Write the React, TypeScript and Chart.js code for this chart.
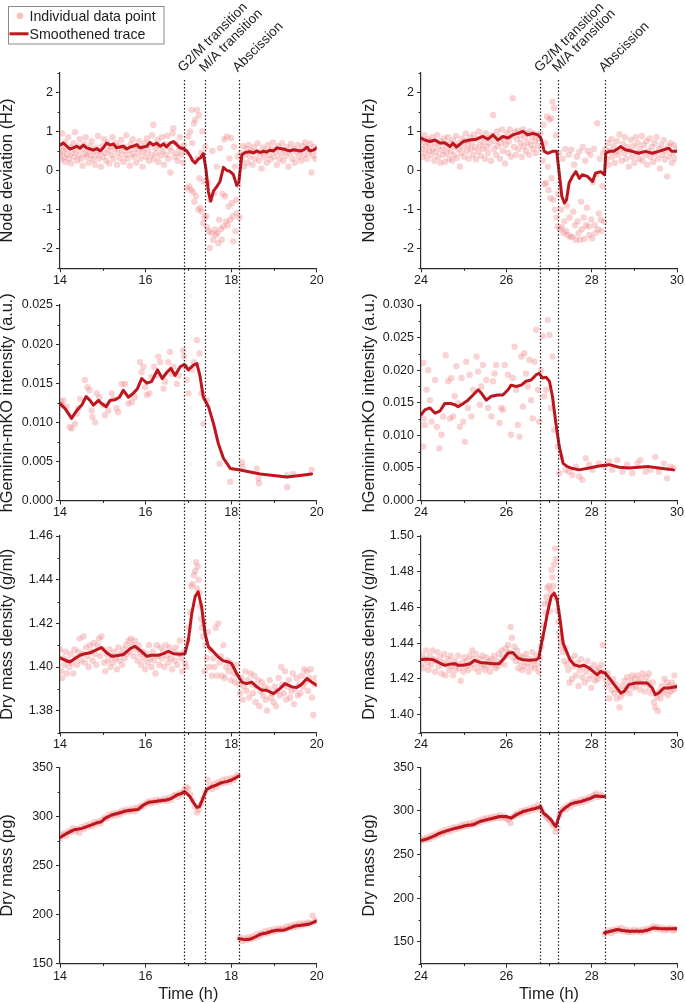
import React, { useEffect, useRef } from 'react';
import { Chart, registerables } from 'chart.js';
Chart.register(...registerables);

type Pt = [number, number | null];

// ================= DATA =================
const xTicksLeft = [14, 15, 16, 17, 18, 19, 20];
const xTicksRight = [24, 25, 26, 27, 28, 29, 30];
const nodeYTicks = [-2.5, -2, -1.5, -1, -0.5, 0, 0.5, 1, 1.5, 2, 2.5];
const gemLeftYTicks = [0, 0.0025, 0.005, 0.0075, 0.01, 0.0125, 0.015, 0.0175, 0.02, 0.0225, 0.025];
const gemRightYTicks = [0, 0.0025, 0.005, 0.0075, 0.01, 0.0125, 0.015, 0.0175, 0.02, 0.0225, 0.025, 0.0275, 0.03];
const denLeftYTicks = [1.37, 1.38, 1.39, 1.4, 1.41, 1.42, 1.43, 1.44, 1.45, 1.46];
const denRightYTicks = [1.39, 1.4, 1.41, 1.42, 1.43, 1.44, 1.45, 1.46, 1.47, 1.48, 1.49, 1.5];
const massLeftYTicks = [150, 175, 200, 225, 250, 275, 300, 325, 350];
const massRightYTicks = [125, 150, 175, 200, 225, 250, 275, 300, 325, 350];

const yTitles = ['Node deviation (Hz)', 'hGeminin-mKO intensity (a.u.)', 'Dry mass density (g/ml)', 'Dry mass (pg)'];
const xTitle = 'Time (h)';
const legendLabels = ['Individual data point', 'Smoothened trace'];
const eventNames = ['G2/M transition', 'M/A transition', 'Abscission'];
const eventsLeft = [16.9, 17.4, 18.18];
const eventsRight = [26.8, 27.22, 28.31];

const nodeLeftTrace: Pt[] = [[14.00,0.65],[14.08,0.70],[14.16,0.62],[14.23,0.55],[14.31,0.58],[14.39,0.62],[14.47,0.57],[14.55,0.65],[14.62,0.58],[14.70,0.55],[14.78,0.52],[14.86,0.56],[14.94,0.50],[15.01,0.58],[15.09,0.70],[15.17,0.65],[15.25,0.68],[15.32,0.58],[15.40,0.60],[15.48,0.62],[15.56,0.55],[15.64,0.60],[15.71,0.62],[15.79,0.66],[15.87,0.58],[15.95,0.60],[16.03,0.62],[16.10,0.72],[16.18,0.65],[16.26,0.70],[16.34,0.62],[16.42,0.68],[16.49,0.60],[16.57,0.70],[16.65,0.74],[16.73,0.66],[16.80,0.58],[16.90,0.55],[16.96,0.50],[17.04,0.38],[17.10,0.25],[17.16,0.19],[17.22,0.28],[17.29,0.33],[17.35,0.43],[17.41,0.05],[17.47,-0.55],[17.52,-0.78],[17.59,-0.52],[17.66,-0.42],[17.74,-0.28],[17.82,0.08],[17.90,0.0],[17.97,-0.02],[18.05,-0.10],[18.13,-0.38],[18.18,-0.30],[18.25,0.40],[18.33,0.46],[18.44,0.48],[18.52,0.45],[18.60,0.50],[18.68,0.46],[18.75,0.49],[18.83,0.47],[18.90,0.52],[18.99,0.50],[19.07,0.58],[19.14,0.56],[19.22,0.55],[19.30,0.52],[19.38,0.50],[19.45,0.53],[19.53,0.52],[19.61,0.50],[19.69,0.52],[19.77,0.60],[19.84,0.50],[19.92,0.52],[20.00,0.58]];

const nodeLeftPoints: Pt[] = [[14.00,0.45],[14.02,0.62],[14.03,0.28],[14.05,0.95],[14.07,0.50],[14.09,0.35],[14.11,0.72],[14.13,0.22],[14.15,0.55],[14.17,0.40],[14.19,0.85],[14.21,0.30],[14.24,0.60],[14.26,0.18],[14.28,0.45],[14.31,0.70],[14.33,0.35],[14.35,0.98],[14.37,0.52],[14.40,0.25],[14.42,0.62],[14.44,0.40],[14.46,0.80],[14.49,0.30],[14.51,0.55],[14.53,0.12],[14.56,0.68],[14.58,0.42],[14.60,0.85],[14.62,0.35],[14.65,0.50],[14.67,0.20],[14.70,0.62],[14.72,0.38],[14.74,0.75],[14.77,0.28],[14.79,0.50],[14.82,0.15],[14.84,0.58],[14.86,0.40],[14.89,0.88],[14.91,0.30],[14.94,0.48],[14.96,0.10],[14.99,0.62],[15.01,0.35],[15.03,0.80],[15.06,0.45],[15.08,0.25],[15.11,0.72],[15.13,0.52],[15.15,0.18],[15.18,0.60],[15.20,0.40],[15.23,0.85],[15.25,0.30],[15.28,0.55],[15.30,0.70],[15.33,0.15],[15.35,0.45],[15.38,0.62],[15.40,0.32],[15.43,0.78],[15.45,0.50],[15.48,0.22],[15.50,0.60],[15.53,0.40],[15.55,0.90],[15.58,0.30],[15.60,0.52],[15.63,0.12],[15.65,0.68],[15.68,0.42],[15.70,0.80],[15.73,0.35],[15.75,0.55],[15.78,0.20],[15.80,0.62],[15.83,0.45],[15.85,0.75],[15.88,0.30],[15.90,0.58],[15.93,0.10],[15.95,0.48],[15.98,0.70],[16.00,0.35],[16.03,0.82],[16.05,0.52],[16.08,0.25],[16.10,0.65],[16.13,0.40],[16.15,0.90],[16.18,1.17],[16.20,0.30],[16.23,0.58],[16.25,0.45],[16.28,0.78],[16.30,0.22],[16.33,0.62],[16.35,0.38],[16.38,0.85],[16.40,0.50],[16.43,0.15],[16.45,0.68],[16.48,0.40],[16.50,0.88],[16.53,0.30],[16.55,0.60],[16.58,-0.05],[16.60,0.50],[16.63,0.95],[16.65,1.08],[16.68,0.35],[16.70,0.70],[16.73,0.45],[16.75,0.25],[16.78,0.60],[16.80,0.85],[16.83,0.40],[16.85,0.55],[16.88,0.20],[16.90,0.65],
[16.94,0.48],[16.97,-0.45],[17.00,0.87],[17.02,-0.40],[17.04,1.00],[17.06,-0.50],[17.08,1.55],[17.09,0.70],[17.11,-0.55],[17.13,1.20],[17.14,-0.80],[17.16,1.30],[17.18,-0.65],[17.20,1.55],[17.21,0.30],[17.23,-1.00],[17.25,1.42],[17.26,-0.20],[17.28,-0.95],[17.30,0.45],[17.31,-1.05],[17.33,1.00],[17.35,-1.35],[17.36,-0.28],[17.38,-1.20],[17.40,0.60],[17.42,-1.17],[17.44,-1.45],[17.46,-0.32],[17.48,-1.55],[17.50,-1.98],[17.52,-0.75],[17.54,-1.60],[17.56,0.50],[17.58,-1.77],[17.60,-0.58],[17.62,-1.51],[17.64,-1.65],[17.66,0.10],[17.68,-1.60],[17.70,-1.86],[17.72,-1.26],[17.74,0.57],[17.76,-1.50],[17.78,-1.77],[17.80,-0.60],[17.82,-1.43],[17.84,0.80],[17.86,-0.66],[17.88,-1.30],[17.90,0.87],[17.92,-1.40],[17.94,-0.92],[17.96,0.31],[17.98,-1.26],[18.00,0.83],[18.02,-0.83],[18.04,-1.17],[18.05,-1.81],[18.07,0.61],[18.09,0.10],[18.10,-1.55],[18.12,-0.75],[18.13,-1.09],[18.15,0.36],[18.17,-0.37],[18.19,-1.20],
[18.22,0.45],[18.25,0.25],[18.28,0.62],[18.30,0.10],[18.33,0.40],[18.36,0.55],[18.38,0.20],[18.41,0.65],[18.44,0.35],[18.47,0.50],[18.50,0.15],[18.53,0.60],[18.56,0.30],[18.59,0.48],[18.62,0.70],[18.65,0.25],[18.68,0.42],[18.71,0.05],[18.74,0.58],[18.77,0.35],[18.80,0.50],[18.83,0.20],[18.86,0.65],[18.89,0.40],[18.92,0.28],[18.95,0.55],[18.98,0.72],[19.01,0.35],[19.04,0.48],[19.07,0.15],[19.10,0.62],[19.13,0.30],[19.16,0.45],[19.19,0.70],[19.22,0.25],[19.25,0.52],[19.28,0.38],[19.31,0.60],[19.34,0.10],[19.37,0.45],[19.40,0.68],[19.43,0.30],[19.46,0.55],[19.49,0.20],[19.52,0.48],[19.55,0.65],[19.58,0.35],[19.61,0.50],[19.64,0.25],[19.67,0.62],[19.70,0.40],[19.73,0.72],[19.76,0.30],[19.79,0.55],[19.82,0.45],[19.85,0.68],[19.88,-0.05],[19.91,0.38],[19.94,0.60],[19.97,0.30],[20.00,0.50]];

const nodeRightTrace: Pt[] = [[24.00,0.83],[24.09,0.78],[24.21,0.74],[24.33,0.78],[24.44,0.70],[24.56,0.71],[24.68,0.61],[24.75,0.70],[24.83,0.60],[24.99,0.74],[25.14,0.78],[25.30,0.80],[25.45,0.87],[25.57,0.80],[25.69,0.91],[25.80,0.78],[25.92,0.87],[26.04,0.83],[26.15,0.91],[26.27,0.95],[26.39,1.00],[26.50,0.91],[26.62,0.95],[26.74,0.91],[26.81,0.83],[26.89,0.49],[26.97,0.44],[27.08,0.49],[27.18,0.49],[27.24,-0.07],[27.30,-0.66],[27.36,-0.83],[27.41,-0.75],[27.47,-0.32],[27.55,-0.15],[27.63,-0.03],[27.71,-0.20],[27.78,-0.11],[27.90,-0.15],[28.02,-0.28],[28.09,-0.07],[28.21,-0.03],[28.30,-0.11],[28.33,0.44],[28.41,0.49],[28.52,0.49],[28.68,0.61],[28.79,0.53],[28.95,0.49],[29.10,0.44],[29.26,0.49],[29.42,0.44],[29.57,0.49],[29.69,0.53],[29.80,0.57],[29.88,0.49],[30.00,0.49]];

const nodeRightPoints: Pt[] = [[24.00,0.80],[24.02,0.55],[24.04,0.35],[24.06,0.72],[24.08,0.90],[24.10,0.45],[24.12,0.62],[24.15,0.30],[24.17,0.80],[24.19,0.50],[24.21,0.68],[24.24,0.40],[24.26,0.85],[24.28,0.55],[24.31,0.25],[24.33,0.70],[24.35,0.48],[24.38,0.90],[24.40,0.35],[24.42,0.62],[24.45,0.20],[24.47,0.75],[24.49,0.52],[24.52,0.40],[24.54,0.82],[24.56,0.22],[24.59,0.60],[24.61,0.45],[24.63,0.85],[24.66,0.30],[24.68,0.70],[24.70,0.50],[24.73,0.25],[24.75,0.78],[24.77,0.40],[24.80,0.62],[24.82,0.88],[24.84,0.32],[24.87,0.55],[24.89,0.70],[24.91,0.10],[24.94,0.45],[24.96,0.82],[24.98,0.60],[25.01,0.35],[25.03,0.75],[25.05,0.95],[25.08,0.50],[25.10,0.65],[25.12,0.30],[25.15,0.85],[25.17,0.55],[25.19,0.72],[25.22,0.40],[25.24,0.92],[25.26,0.60],[25.29,0.28],[25.31,0.80],[25.33,0.50],[25.36,1.00],[25.38,0.65],[25.40,0.38],[25.43,0.85],[25.45,0.55],[25.47,0.72],[25.50,0.30],[25.52,0.95],[25.54,0.60],[25.57,0.45],[25.59,0.82],[25.61,0.70],[25.64,0.25],[25.66,0.90],[25.69,1.42],[25.71,0.55],[25.73,0.75],[25.76,0.40],[25.78,1.00],[25.80,0.62],[25.83,0.85],[25.85,0.30],[25.87,0.70],[25.90,1.05],[25.92,0.50],[25.94,0.80],[25.97,0.18],[25.99,0.65],[26.01,0.95],[26.04,0.45],[26.06,0.75],[26.08,1.05],[26.11,0.35],[26.13,0.88],[26.15,1.85],[26.18,0.60],[26.20,0.98],[26.22,0.40],[26.25,0.80],[26.27,1.02],[26.29,0.55],[26.32,0.90],[26.34,0.70],[26.36,0.35],[26.39,1.05],[26.41,0.62],[26.43,0.85],[26.46,0.50],[26.48,0.95],[26.50,0.72],[26.53,0.40],[26.55,1.00],[26.57,0.65],[26.60,0.85],[26.62,0.55],[26.64,0.95],[26.67,0.75],[26.69,0.45],[26.71,0.90],[26.74,0.62],[26.76,0.80],
[26.80,0.95],[26.83,0.55],[26.85,0.25],[26.87,1.17],[26.89,-0.35],[26.91,0.70],[26.93,-0.32],[26.95,1.38],[26.97,0.10],[26.99,-0.50],[27.01,1.30],[27.03,-0.70],[27.05,1.34],[27.06,-0.20],[27.08,1.76],[27.10,-0.75],[27.12,1.60],[27.14,-1.00],[27.16,0.90],[27.18,-1.20],[27.20,-1.43],[27.22,-0.60],[27.24,0.45],[27.26,-1.51],[27.28,-1.00],[27.30,-1.45],[27.32,0.30],[27.34,-1.60],[27.36,-1.30],[27.38,0.55],[27.40,-1.55],[27.42,-0.90],[27.44,-1.65],[27.46,0.40],[27.48,-1.20],[27.50,-1.70],[27.52,0.53],[27.55,-1.69],[27.57,-1.05],[27.59,0.15],[27.61,-1.40],[27.63,-1.77],[27.65,0.35],[27.67,-1.30],[27.69,-1.60],[27.71,0.48],[27.73,-1.77],[27.75,-0.80],[27.77,-1.50],[27.79,0.60],[27.81,-1.20],[27.83,-1.75],[27.85,0.25],[27.87,-1.40],[27.89,-0.95],[27.91,0.50],[27.93,-1.43],[27.95,-1.65],[27.97,0.40],[27.99,-1.25],[28.01,-1.73],[28.03,-0.30],[28.05,0.55],[28.07,-1.40],[28.09,-1.60],[28.11,-0.10],[28.13,1.21],[28.15,-1.51],[28.17,-1.10],[28.19,0.30],[28.21,-1.26],[28.23,-1.55],[28.25,-0.40],[28.27,0.45],[28.29,-1.30],
[28.32,0.55],[28.35,0.30],[28.38,0.70],[28.40,0.15],[28.43,0.50],[28.46,0.80],[28.48,0.35],[28.51,0.62],[28.54,0.20],[28.57,0.48],[28.59,0.75],[28.62,0.40],[28.65,0.92],[28.68,0.55],[28.70,0.25],[28.73,0.68],[28.76,0.45],[28.78,0.85],[28.81,0.30],[28.84,0.60],[28.87,0.10],[28.89,0.50],[28.92,0.78],[28.95,0.35],[28.98,0.62],[29.00,0.20],[29.03,0.85],[29.06,0.45],[29.08,0.70],[29.11,0.30],[29.14,0.55],[29.17,0.88],[29.19,0.25],[29.22,0.65],[29.25,0.40],[29.28,0.75],[29.30,0.15],[29.33,0.50],[29.36,0.82],[29.38,0.35],[29.41,0.60],[29.44,0.22],[29.47,0.70],[29.49,0.45],[29.52,0.85],[29.55,0.30],[29.58,0.55],[29.60,0.05],[29.63,0.65],[29.66,0.40],[29.69,0.78],[29.71,0.28],[29.74,0.50],[29.77,-0.15],[29.80,0.62],[29.82,0.35],[29.85,0.70],[29.88,0.20],[29.90,0.45],[29.93,0.65],[29.96,0.30],[29.99,0.55]];

const gemLeftTrace: Pt[] = [[14.00,0.0124],[14.12,0.01175],[14.27,0.0105],[14.39,0.0115],[14.51,0.0122],[14.61,0.0133],[14.70,0.0128],[14.78,0.0122],[14.90,0.0128],[14.97,0.0124],[15.08,0.0120],[15.17,0.0128],[15.29,0.0129],[15.39,0.0132],[15.48,0.0141],[15.60,0.0132],[15.71,0.0137],[15.81,0.0143],[15.91,0.0156],[16.03,0.0150],[16.14,0.0152],[16.28,0.0167],[16.39,0.0156],[16.50,0.0164],[16.59,0.0169],[16.69,0.0160],[16.81,0.0171],[16.91,0.0174],[17.00,0.0167],[17.12,0.0173],[17.20,0.0175],[17.27,0.0160],[17.35,0.0132],[17.47,0.0120],[17.59,0.0098],[17.70,0.0073],[17.82,0.0054],[17.98,0.0041],[18.21,0.0039],[18.68,0.0034],[19.30,0.0030],[19.61,0.0032],[19.88,0.0034]];

const gemLeftPoints: Pt[] = [[14.02,0.0126],[14.05,0.0122],[14.08,0.0128],[14.16,0.0120],[14.23,0.0094],[14.27,0.0092],[14.35,0.0098],[14.39,0.0111],[14.43,0.0118],[14.47,0.0130],[14.58,0.0154],[14.64,0.0145],[14.69,0.0141],[14.74,0.0115],[14.76,0.0107],[14.82,0.0100],[14.86,0.0137],[14.92,0.0132],[15.01,0.0122],[15.05,0.0109],[15.13,0.0115],[15.21,0.0137],[15.25,0.0130],[15.32,0.0118],[15.36,0.0113],[15.44,0.0149],[15.52,0.0149],[15.60,0.0124],[15.68,0.0126],[15.75,0.0132],[15.87,0.0177],[15.91,0.0164],[15.95,0.0171],[15.99,0.0145],[16.03,0.0135],[16.09,0.0137],[16.14,0.0158],[16.20,0.0171],[16.25,0.0160],[16.30,0.0184],[16.34,0.0177],[16.42,0.0143],[16.46,0.0152],[16.53,0.0177],[16.57,0.0190],[16.61,0.0162],[16.65,0.0171],[16.73,0.0149],[16.77,0.0160],[16.88,0.0192],[16.90,0.0184],[16.92,0.0171],[16.96,0.0154],[17.00,0.0137],[17.08,0.0167],[17.13,0.0177],[17.20,0.0205],[17.26,0.0188],[17.31,0.0137],[17.35,0.0098],[17.43,0.0128],[17.73,0.0047],[17.98,0.0024],[18.25,0.0049],[18.27,0.0043],[18.60,0.0041],[18.64,0.0028],[18.65,0.0022],[19.30,0.0032],[19.31,0.0017],[19.45,0.0034],[19.88,0.0039]];

const gemRightTrace: Pt[] = [[24.00,0.01314],[24.09,0.0139],[24.21,0.0142],[24.33,0.0134],[24.44,0.0137],[24.56,0.0149],[24.68,0.0149],[24.79,0.0147],[24.87,0.0144],[24.99,0.0149],[25.10,0.0154],[25.22,0.0162],[25.34,0.0170],[25.41,0.0165],[25.53,0.0154],[25.65,0.0160],[25.80,0.0162],[25.92,0.0162],[26.04,0.0170],[26.11,0.0177],[26.23,0.0175],[26.35,0.0177],[26.46,0.0183],[26.58,0.0185],[26.70,0.0193],[26.77,0.0195],[26.85,0.0188],[26.93,0.0189],[27.01,0.0183],[27.08,0.0160],[27.16,0.0119],[27.24,0.0083],[27.33,0.0057],[27.43,0.0052],[27.55,0.0049],[27.71,0.0047],[27.94,0.0050],[28.17,0.0053],[28.41,0.0055],[28.64,0.0051],[28.87,0.0050],[29.10,0.0051],[29.34,0.0052],[29.57,0.0050],[29.80,0.0048],[29.92,0.0047]];

const gemRightPoints: Pt[] = [[24.05,0.0211],[24.05,0.0083],[24.09,0.0116],[24.06,0.0126],[24.17,0.0200],[24.13,0.0170],[24.21,0.0154],[24.25,0.0121],[24.33,0.0185],[24.37,0.0113],[24.43,0.0080],[24.48,0.0101],[24.52,0.0129],[24.58,0.0223],[24.64,0.0183],[24.68,0.0126],[24.71,0.0188],[24.75,0.0129],[24.79,0.0160],[24.83,0.0206],[24.87,0.0149],[24.91,0.0113],[24.95,0.0188],[24.99,0.0121],[25.03,0.0090],[25.06,0.0213],[25.10,0.0142],[25.14,0.0193],[25.18,0.0129],[25.22,0.0170],[25.30,0.0221],[25.34,0.0198],[25.38,0.0147],[25.41,0.0175],[25.45,0.0208],[25.53,0.0185],[25.57,0.0142],[25.65,0.0129],[25.69,0.0183],[25.72,0.0195],[25.76,0.0208],[25.84,0.0119],[25.88,0.0142],[25.92,0.0139],[25.96,0.0208],[26.04,0.0193],[26.11,0.0101],[26.15,0.0188],[26.19,0.0236],[26.23,0.0170],[26.27,0.0116],[26.31,0.0098],[26.35,0.0221],[26.39,0.0144],[26.42,0.0226],[26.46,0.0195],[26.50,0.0175],[26.54,0.0216],[26.58,0.0154],[26.62,0.0126],[26.66,0.0213],[26.70,0.0262],[26.74,0.0170],[26.77,0.0121],[26.81,0.0200],[26.85,0.0252],[26.89,0.0160],[26.93,0.0170],[26.97,0.0277],[27.01,0.0254],[27.04,0.0142],[27.08,0.0221],[27.12,0.0108],[27.20,0.0083],[27.24,0.0042],[27.28,0.0067],[27.39,0.0047],[27.47,0.0044],[27.55,0.0039],[27.63,0.0052],[27.71,0.0037],[27.78,0.0032],[27.86,0.0065],[27.94,0.0055],[28.02,0.0047],[28.17,0.0057],[28.29,0.0052],[28.41,0.0060],[28.48,0.0047],[28.60,0.0062],[28.72,0.0044],[28.83,0.0055],[28.95,0.0042],[29.07,0.0057],[29.14,0.0062],[29.26,0.0044],[29.38,0.0047],[29.49,0.0067],[29.57,0.0044],[29.69,0.0057],[29.77,0.0034],[29.84,0.0052],[29.92,0.0050]];

const denLeftTrace: Pt[] = [[14.00,1.4042],[14.12,1.4031],[14.23,1.4023],[14.35,1.4039],[14.47,1.4054],[14.58,1.4061],[14.70,1.4065],[14.86,1.4080],[14.97,1.4089],[15.09,1.4065],[15.21,1.4049],[15.32,1.4052],[15.48,1.4057],[15.64,1.4084],[15.75,1.4095],[15.87,1.4077],[16.03,1.4049],[16.14,1.4054],[16.30,1.4054],[16.42,1.4061],[16.53,1.4072],[16.65,1.4061],[16.81,1.4058],[16.92,1.4061],[17.00,1.4123],[17.08,1.4245],[17.16,1.4324],[17.23,1.4344],[17.31,1.4276],[17.39,1.4153],[17.47,1.4092],[17.59,1.4069],[17.70,1.4046],[17.82,1.4028],[17.94,1.4023],[18.01,1.4016],[18.13,1.3970],[18.25,1.3931],[18.36,1.3924],[18.48,1.3931],[18.60,1.3909],[18.72,1.3893],[18.83,1.3893],[18.99,1.3878],[19.14,1.3901],[19.26,1.3924],[19.42,1.3909],[19.53,1.3906],[19.65,1.3921],[19.77,1.3947],[19.88,1.3931],[20.00,1.3916]];

const denLeftPoints: Pt[] = [[14.00,1.408],[14.03,1.398],[14.05,1.395],[14.08,1.404],[14.10,1.401],[14.13,1.407],[14.16,1.397],[14.19,1.403],[14.22,1.400],[14.25,1.406],[14.28,1.402],[14.31,1.397],[14.34,1.408],[14.37,1.404],[14.40,1.401],[14.43,1.407],[14.46,1.413],[14.49,1.403],[14.52,1.406],[14.55,1.414],[14.58,1.402],[14.61,1.409],[14.64,1.405],[14.67,1.400],[14.70,1.410],[14.73,1.407],[14.76,1.403],[14.79,1.411],[14.82,1.406],[14.85,1.401],[14.88,1.410],[14.91,1.413],[14.94,1.405],[14.97,1.414],[15.00,1.408],[15.03,1.402],[15.06,1.398],[15.09,1.406],[15.12,1.403],[15.15,1.408],[15.18,1.400],[15.21,1.405],[15.24,1.402],[15.27,1.407],[15.30,1.404],[15.33,1.399],[15.36,1.409],[15.39,1.403],[15.42,1.406],[15.45,1.401],[15.48,1.408],[15.51,1.404],[15.54,1.410],[15.57,1.406],[15.60,1.412],[15.63,1.407],[15.66,1.413],[15.69,1.410],[15.72,1.405],[15.75,1.412],[15.78,1.408],[15.81,1.403],[15.84,1.410],[15.87,1.406],[15.90,1.401],[15.93,1.407],[15.96,1.404],[15.99,1.399],[16.02,1.406],[16.05,1.402],[16.08,1.410],[16.11,1.404],[16.14,1.400],[16.17,1.407],[16.20,1.403],[16.23,1.397],[16.26,1.410],[16.29,1.405],[16.32,1.401],[16.35,1.409],[16.38,1.404],[16.41,1.407],[16.44,1.400],[16.47,1.410],[16.50,1.405],[16.53,1.402],[16.56,1.409],[16.59,1.404],[16.62,1.399],[16.65,1.407],[16.68,1.403],[16.71,1.409],[16.74,1.401],[16.77,1.406],[16.80,1.412],[16.83,1.404],[16.86,1.398],[16.89,1.407],
[16.92,1.402],[16.95,1.400],[16.98,1.412],[17.01,1.418],[17.04,1.425],[17.07,1.437],[17.10,1.438],[17.13,1.442],[17.16,1.444],[17.18,1.448],[17.20,1.436],[17.22,1.446],[17.24,1.440],[17.26,1.434],[17.28,1.428],[17.30,1.422],[17.32,1.418],[17.34,1.414],[17.36,1.420],[17.38,1.398],[17.40,1.410],[17.43,1.404],[17.46,1.416],[17.49,1.400],[17.52,1.408],[17.55,1.396],[17.58,1.404],[17.61,1.400],[17.64,1.418],[17.67,1.396],[17.70,1.420],[17.73,1.402],[17.76,1.405],[17.79,1.396],[17.82,1.410],[17.85,1.395],[17.88,1.400],[17.91,1.403],[17.94,1.398],[17.97,1.402],[18.00,1.394],[18.03,1.400],[18.06,1.397],[18.09,1.393],[18.12,1.401],[18.15,1.396],
[18.18,1.392],[18.21,1.388],[18.24,1.395],[18.27,1.385],[18.30,1.391],[18.33,1.398],[18.36,1.389],[18.39,1.394],[18.42,1.386],[18.45,1.397],[18.48,1.392],[18.51,1.388],[18.54,1.396],[18.57,1.384],[18.60,1.391],[18.63,1.394],[18.66,1.382],[18.69,1.389],[18.72,1.393],[18.75,1.387],[18.78,1.391],[18.81,1.385],[18.84,1.380],[18.87,1.390],[18.90,1.394],[18.93,1.386],[18.96,1.388],[18.99,1.384],[19.02,1.391],[19.05,1.382],[19.08,1.389],[19.11,1.395],[19.14,1.387],[19.17,1.400],[19.20,1.392],[19.23,1.388],[19.26,1.398],[19.29,1.385],[19.32,1.391],[19.35,1.394],[19.38,1.386],[19.41,1.389],[19.44,1.397],[19.47,1.383],[19.50,1.390],[19.53,1.395],[19.56,1.387],[19.59,1.392],[19.62,1.388],[19.65,1.396],[19.68,1.391],[19.71,1.399],[19.74,1.393],[19.77,1.398],[19.80,1.389],[19.83,1.395],[19.86,1.399],[19.89,1.386],[19.92,1.378],[19.95,1.392],[19.98,1.395]];

const denRightTrace: Pt[] = [[24.00,1.4307],[24.13,1.4311],[24.29,1.4307],[24.44,1.4289],[24.56,1.4276],[24.68,1.4283],[24.79,1.4285],[24.87,1.4276],[24.99,1.4276],[25.14,1.4283],[25.26,1.4304],[25.38,1.4292],[25.53,1.4289],[25.69,1.4285],[25.83,1.4285],[25.92,1.4307],[26.04,1.4345],[26.15,1.4348],[26.27,1.4317],[26.39,1.4307],[26.54,1.4305],[26.70,1.4307],[26.76,1.4317],[26.81,1.4382],[26.89,1.4475],[26.97,1.4577],[27.05,1.4661],[27.12,1.4680],[27.19,1.4642],[27.26,1.4531],[27.33,1.4400],[27.41,1.4354],[27.49,1.4307],[27.59,1.4279],[27.71,1.4270],[27.82,1.4276],[27.94,1.4261],[28.06,1.4237],[28.13,1.4223],[28.21,1.4242],[28.33,1.4229],[28.44,1.4196],[28.56,1.4158],[28.68,1.4121],[28.76,1.4130],[28.87,1.4168],[29.03,1.4177],[29.18,1.4177],[29.30,1.4177],[29.42,1.4149],[29.49,1.4112],[29.57,1.4121],[29.69,1.4149],[29.80,1.4149],[30.00,1.4158]];

const denRightPoints: Pt[] = [[24.00,1.428],[24.03,1.433],[24.06,1.426],[24.09,1.431],[24.12,1.436],[24.15,1.429],[24.18,1.425],[24.21,1.433],[24.24,1.428],[24.27,1.436],[24.30,1.431],[24.33,1.424],[24.36,1.430],[24.39,1.435],[24.42,1.427],[24.45,1.432],[24.48,1.423],[24.51,1.429],[24.54,1.434],[24.57,1.422],[24.60,1.428],[24.63,1.431],[24.66,1.425],[24.69,1.433],[24.72,1.427],[24.75,1.422],[24.78,1.430],[24.81,1.425],[24.84,1.428],[24.87,1.433],[24.90,1.426],[24.93,1.419],[24.96,1.429],[24.99,1.424],[25.02,1.432],[25.05,1.427],[25.08,1.430],[25.11,1.425],[25.14,1.433],[25.17,1.428],[25.20,1.436],[25.23,1.431],[25.26,1.426],[25.29,1.434],[25.32,1.429],[25.35,1.424],[25.38,1.431],[25.41,1.427],[25.44,1.433],[25.47,1.428],[25.50,1.425],[25.53,1.432],[25.56,1.427],[25.59,1.430],[25.62,1.424],[25.65,1.431],[25.68,1.428],[25.71,1.433],[25.74,1.426],[25.77,1.430],[25.80,1.427],[25.83,1.434],[25.86,1.429],[25.89,1.436],[25.92,1.432],[25.95,1.428],[25.98,1.437],[26.01,1.433],[26.04,1.439],[26.07,1.435],[26.10,1.449],[26.13,1.443],[26.16,1.432],[26.19,1.438],[26.22,1.430],[26.25,1.436],[26.28,1.426],[26.31,1.433],[26.34,1.429],[26.37,1.425],[26.40,1.432],[26.43,1.427],[26.46,1.434],[26.49,1.429],[26.52,1.424],[26.55,1.431],[26.58,1.427],[26.61,1.435],[26.64,1.430],[26.67,1.426],[26.70,1.433],[26.73,1.428],
[26.76,1.424],[26.79,1.432],[26.82,1.438],[26.85,1.443],[26.88,1.450],[26.90,1.462],[26.92,1.457],[26.94,1.466],[26.96,1.471],[26.98,1.463],[27.00,1.472],[27.02,1.458],[27.04,1.469],[27.06,1.481],[27.08,1.477],[27.10,1.472],[27.12,1.484],[27.14,1.493],[27.16,1.487],[27.18,1.465],[27.20,1.458],[27.22,1.452],[27.24,1.446],[27.26,1.443],[27.28,1.438],[27.30,1.441],[27.33,1.435],[27.36,1.430],[27.39,1.437],[27.42,1.428],[27.45,1.425],[27.48,1.418],[27.51,1.431],[27.54,1.420],[27.57,1.427],[27.60,1.433],[27.63,1.422],[27.66,1.429],[27.69,1.416],[27.72,1.425],[27.75,1.431],[27.78,1.421],[27.81,1.427],[27.84,1.418],[27.87,1.424],[27.90,1.430],[27.93,1.420],[27.96,1.426],[27.99,1.415],[28.02,1.422],[28.05,1.428],[28.08,1.419],[28.11,1.425],[28.14,1.420],[28.17,1.426],[28.20,1.422],[28.23,1.428],[28.26,1.439],[28.29,1.424],
[28.32,1.420],[28.35,1.416],[28.38,1.423],[28.41,1.409],[28.44,1.418],[28.47,1.414],[28.50,1.420],[28.53,1.412],[28.56,1.417],[28.59,1.409],[28.62,1.414],[28.65,1.404],[28.68,1.410],[28.71,1.416],[28.74,1.412],[28.77,1.419],[28.80,1.414],[28.83,1.421],[28.86,1.416],[28.89,1.412],[28.92,1.419],[28.95,1.422],[28.98,1.415],[29.01,1.420],[29.04,1.416],[29.07,1.422],[29.10,1.418],[29.13,1.414],[29.16,1.420],[29.19,1.423],[29.22,1.417],[29.25,1.413],[29.28,1.421],[29.31,1.418],[29.34,1.423],[29.37,1.415],[29.40,1.412],[29.43,1.418],[29.46,1.407],[29.49,1.404],[29.52,1.410],[29.55,1.402],[29.58,1.413],[29.61,1.409],[29.64,1.416],[29.67,1.412],[29.70,1.420],[29.73,1.414],[29.76,1.418],[29.79,1.411],[29.82,1.416],[29.85,1.413],[29.88,1.418],[29.91,1.414],[29.94,1.422],[29.97,1.416],[30.00,1.415]];

const massLeftTrace: Pt[] = [[14.00,278.6],[14.16,282.7],[14.31,286.1],[14.51,287.8],[14.66,290.1],[14.86,293.5],[14.97,294.6],[15.05,298.0],[15.21,301.4],[15.40,303.7],[15.56,305.8],[15.71,306.5],[15.83,307.1],[15.95,311.6],[16.07,314.3],[16.18,315.0],[16.34,316.0],[16.49,316.7],[16.61,318.4],[16.73,321.8],[16.84,323.5],[16.91,325.2],[16.96,323.5],[17.04,320.1],[17.12,314.0],[17.20,309.2],[17.26,309.9],[17.31,315.0],[17.37,321.8],[17.43,327.6],[17.55,330.3],[17.66,332.0],[17.78,334.4],[17.90,335.4],[18.01,337.1],[18.09,338.8],[18.18,341.2],[18.181,null],[18.18,175.5],[18.33,174.5],[18.44,174.8],[18.56,177.2],[18.68,179.9],[18.83,181.3],[18.95,183.0],[19.07,184.0],[19.22,184.0],[19.38,186.4],[19.49,188.4],[19.65,189.1],[19.81,190.1],[20.00,193.5]];

const massLeftPoints: Pt[] = [[14.00,277],[14.05,281],[14.10,283],[14.15,280],[14.20,285],[14.25,284],[14.30,288],[14.35,285],[14.40,287],[14.45,283],[14.50,289],[14.55,287],[14.60,291],[14.65,289],[14.70,292],[14.75,290],[14.80,294],[14.85,292],[14.90,295],[14.95,293],[15.00,297],[15.05,299],[15.10,298],[15.15,302],[15.20,300],[15.25,303],[15.30,301],[15.35,304],[15.40,302],[15.45,306],[15.50,304],[15.55,307],[15.60,305],[15.65,306],[15.70,308],[15.75,305],[15.80,309],[15.85,308],[15.90,311],[15.95,310],[16.00,313],[16.05,315],[16.10,313],[16.15,316],[16.20,314],[16.25,317],[16.30,315],[16.35,317],[16.40,316],[16.45,318],[16.50,316],[16.55,319],[16.60,317],[16.65,321],[16.70,322],[16.75,320],[16.80,324],[16.85,322],[16.90,327],[16.95,330],[17.00,328],[17.05,322],[17.10,316],[17.15,310],[17.20,304],[17.25,307],[17.30,313],[17.35,318],[17.40,325],[17.45,337],[17.50,331],[17.55,328],[17.60,333],[17.65,330],[17.70,335],[17.75,333],[17.80,337],[17.85,334],[17.90,338],[17.95,335],[18.00,339],[18.05,337],[18.10,340],[18.15,342],
[18.20,177],[18.25,173],[18.30,176],[18.35,174],[18.40,177],[18.45,175],[18.50,178],[18.55,176],[18.60,180],[18.65,178],[18.70,181],[18.75,180],[18.80,183],[18.85,181],[18.90,184],[18.95,182],[19.00,185],[19.05,183],[19.10,186],[19.15,184],[19.20,186],[19.25,185],[19.30,188],[19.35,186],[19.40,189],[19.45,187],[19.50,190],[19.55,188],[19.60,191],[19.65,189],[19.70,191],[19.75,190],[19.80,192],[19.85,191],[19.90,199],[19.95,193],[20.00,195]];

const massRightTrace: Pt[] = [[24.00,266.2],[24.13,267.7],[24.29,270.8],[24.44,274.6],[24.60,277.2],[24.75,279.5],[24.91,281.4],[25.06,283.3],[25.22,284.1],[25.38,287.9],[25.53,289.8],[25.69,291.7],[25.84,293.6],[26.00,293.6],[26.11,291.7],[26.23,295.5],[26.39,299.3],[26.54,301.2],[26.70,303.1],[26.80,305.0],[26.87,297.4],[26.97,293.6],[27.05,289.8],[27.12,284.1],[27.16,282.2],[27.22,291.7],[27.28,299.3],[27.40,304.3],[27.51,308.1],[27.63,309.6],[27.75,310.8],[27.86,312.7],[27.98,314.6],[28.09,317.2],[28.21,316.5],[28.30,316.5],[28.301,null],[28.30,160.3],[28.44,162.2],[28.60,164.1],[28.72,163.0],[28.87,162.2],[29.03,162.2],[29.18,162.2],[29.30,163.3],[29.45,166.0],[29.57,165.2],[29.73,164.9],[29.88,164.9],[30.00,165.2]];

const massRightPoints: Pt[] = [[24.00,265],[24.05,268],[24.10,267],[24.15,270],[24.20,268],[24.25,272],[24.30,270],[24.35,274],[24.40,272],[24.45,276],[24.50,274],[24.55,278],[24.60,276],[24.65,279],[24.70,277],[24.75,281],[24.80,279],[24.85,282],[24.90,280],[24.95,284],[25.00,282],[25.05,285],[25.10,283],[25.15,286],[25.20,284],[25.25,287],[25.30,285],[25.35,289],[25.40,287],[25.45,291],[25.50,289],[25.55,292],[25.60,290],[25.65,293],[25.70,291],[25.75,294],[25.80,292],[25.85,295],[25.90,292],[25.95,294],[26.00,291],[26.05,290],[26.10,286],[26.15,293],[26.20,295],[26.25,297],[26.30,296],[26.35,300],[26.40,298],[26.45,301],[26.50,299],[26.55,303],[26.60,301],[26.65,305],[26.70,302],[26.75,307],[26.80,304],[26.85,299],[26.90,295],[26.95,292],[27.00,290],[27.05,287],[27.10,283],[27.15,276],[27.20,280],[27.25,295],[27.30,301],[27.35,304],[27.40,302],[27.45,307],[27.50,305],[27.55,310],[27.60,308],[27.65,311],[27.70,309],[27.75,313],[27.80,310],[27.85,314],[27.90,312],[27.95,316],[28.00,314],[28.05,318],[28.10,320],[28.15,316],[28.20,319],[28.25,317],
[28.30,159],[28.35,161],[28.40,163],[28.45,160],[28.50,164],[28.55,162],[28.60,165],[28.65,163],[28.70,166],[28.75,162],[28.80,164],[28.85,161],[28.90,163],[28.95,161],[29.00,164],[29.05,162],[29.10,163],[29.15,161],[29.20,164],[29.25,162],[29.30,165],[29.35,163],[29.40,166],[29.45,168],[29.50,165],[29.55,167],[29.60,164],[29.65,166],[29.70,163],[29.75,165],[29.80,164],[29.85,166],[29.90,163],[29.95,165],[30.00,164]];

// ================= LAYOUT / STYLE =================
const W = 685;
const H = 1003;
const XH = 28;
const FONT = "'Liberation Sans', Arial, Helvetica, sans-serif";
const TEXT = '#1c1c1c';
const AXIS = '#2a2a2a';
const RED = 'rgb(190,22,30)';
const PINK = 'rgba(238,120,120,0.33)';
const PINK_LEGEND = 'rgba(238,120,120,0.45)';
const TICK_SIZE = 12.5;
const TITLE_SIZE = 16.3;
const COLS = [
  { l: 60, r: 316.7, titleX: 7.5 },
  { l: 421, r: 678.3, titleX: 369.5 },
];
const ROWS = [
  { t: 72.7, b: 268.3 },
  { t: 305, b: 500.5 },
  { t: 536, b: 732.5 },
  { t: 767.3, b: 963.7 },
];

interface PanelDef {
  row: number;
  col: number;
  xTicks: number[];
  yTicks: number[];
  yMajor: number;
  yDec: number;
  points: Pt[];
  trace: Pt[];
  events: number[];
}

const PANELS: PanelDef[] = [
  { row: 0, col: 0, xTicks: xTicksLeft, yTicks: nodeYTicks, yMajor: 1, yDec: 0, points: nodeLeftPoints, trace: nodeLeftTrace, events: eventsLeft },
  { row: 0, col: 1, xTicks: xTicksRight, yTicks: nodeYTicks, yMajor: 1, yDec: 0, points: nodeRightPoints, trace: nodeRightTrace, events: eventsRight },
  { row: 1, col: 0, xTicks: xTicksLeft, yTicks: gemLeftYTicks, yMajor: 0.005, yDec: 3, points: gemLeftPoints, trace: gemLeftTrace, events: eventsLeft },
  { row: 1, col: 1, xTicks: xTicksRight, yTicks: gemRightYTicks, yMajor: 0.005, yDec: 3, points: gemRightPoints, trace: gemRightTrace, events: eventsRight },
  { row: 2, col: 0, xTicks: xTicksLeft, yTicks: denLeftYTicks, yMajor: 0.02, yDec: 2, points: denLeftPoints, trace: denLeftTrace, events: eventsLeft },
  { row: 2, col: 1, xTicks: xTicksRight, yTicks: denRightYTicks, yMajor: 0.02, yDec: 2, points: denRightPoints, trace: denRightTrace, events: eventsRight },
  { row: 3, col: 0, xTicks: xTicksLeft, yTicks: massLeftYTicks, yMajor: 50, yDec: 0, points: massLeftPoints, trace: massLeftTrace, events: eventsLeft },
  { row: 3, col: 1, xTicks: xTicksRight, yTicks: massRightYTicks, yMajor: 50, yDec: 0, points: massRightPoints, trace: massRightTrace, events: eventsRight },
];

const isMajor = (v: number, step: number) => Math.abs(v / step - Math.round(v / step)) < 1e-6;

function decorPlugin(p: PanelDef) {
  return {
    id: 'decor' + p.row + p.col,
    afterDraw(chart: any) {
      const ctx: CanvasRenderingContext2D = chart.ctx;
      const a = chart.chartArea;
      const xs = chart.scales.x;
      const ys = chart.scales.y;
      const col = COLS[p.col];

      // minor ticks
      ctx.save();
      ctx.strokeStyle = AXIS;
      ctx.lineWidth = 1;
      ctx.beginPath();
      p.yTicks.forEach((v) => {
        if (!isMajor(v, p.yMajor)) {
          const y = Math.round(ys.getPixelForValue(v)) + 0.5;
          ctx.moveTo(a.left - 2.5, y);
          ctx.lineTo(a.left, y);
        }
      });
      p.xTicks.forEach((v) => {
        if (!isMajor(v, 2)) {
          const x = Math.round(xs.getPixelForValue(v)) + 0.5;
          ctx.moveTo(x, a.bottom);
          ctx.lineTo(x, a.bottom + 2.5);
        }
      });
      ctx.stroke();
      ctx.restore();

      // y-axis title
      ctx.save();
      ctx.fillStyle = TEXT;
      ctx.font = `${TITLE_SIZE}px ${FONT}`;
      ctx.translate(col.titleX + 0.258 * TITLE_SIZE, (a.top + a.bottom) / 2);
      ctx.rotate(-Math.PI / 2);
      ctx.textAlign = 'center';
      ctx.textBaseline = 'alphabetic';
      ctx.fillText(yTitles[p.row], 0, 0);
      ctx.restore();

      if (p.row === 3) {
        // x title
        ctx.save();
        ctx.fillStyle = TEXT;
        ctx.font = `${TITLE_SIZE}px ${FONT}`;
        ctx.textAlign = 'center';
        ctx.textBaseline = 'alphabetic';
        ctx.fillText(xTitle, (a.left + a.right) / 2, 998.5);
        ctx.restore();

        // event lines spanning the whole column
        ctx.save();
        ctx.strokeStyle = '#222';
        ctx.lineWidth = 1.2;
        ctx.setLineDash([1.5, 2]);
        p.events.forEach((t) => {
          const x = Math.round(xs.getPixelForValue(t)) + 0.5;
          ctx.beginPath();
          ctx.moveTo(x, 80);
          ctx.lineTo(x, a.bottom);
          ctx.stroke();
        });
        ctx.restore();
      }

      if (p.row === 0) {
        ctx.save();
        ctx.fillStyle = TEXT;
        ctx.font = `13.5px ${FONT}`;
        ctx.textAlign = 'left';
        ctx.textBaseline = 'alphabetic';
        p.events.forEach((t, i) => {
          const x = xs.getPixelForValue(t);
          ctx.save();
          ctx.translate(x - 1, 72.5);
          ctx.rotate(-Math.PI / 4);
          ctx.fillText(eventNames[i], 0, 0);
          ctx.restore();
        });
        ctx.restore();

        if (p.col === 0) {
          ctx.save();
          ctx.strokeStyle = '#8a8a8a';
          ctx.lineWidth = 1;
          ctx.strokeRect(8.5, 6.5, 155.5, 37.5);
          ctx.fillStyle = PINK_LEGEND;
          ctx.beginPath();
          ctx.arc(20, 15.8, 3.4, 0, Math.PI * 2);
          ctx.fill();
          ctx.strokeStyle = RED;
          ctx.lineWidth = 3;
          ctx.beginPath();
          ctx.moveTo(9.5, 33.8);
          ctx.lineTo(28.5, 33.8);
          ctx.stroke();
          ctx.fillStyle = TEXT;
          ctx.font = `14.2px ${FONT}`;
          ctx.textAlign = 'left';
          ctx.textBaseline = 'alphabetic';
          ctx.fillText(legendLabels[0], 29.5, 21);
          ctx.fillText(legendLabels[1], 29.5, 39);
          ctx.restore();
        }
      }
    },
  };
}

function makeConfig(p: PanelDef): any {
  const col = COLS[p.col];
  const row = ROWS[p.row];
  const tickColorFn = (step: number) => (c: any) =>
    c.tick && isMajor(c.tick.value, step) ? AXIS : 'rgba(0,0,0,0)';
  return {
    type: 'scatter',
    data: {
      datasets: [
        {
          label: legendLabels[1],
          data: p.trace.map(([x, y]) => ({ x, y })),
          showLine: true,
          spanGaps: false,
          borderColor: RED,
          borderWidth: 3,
          borderJoinStyle: 'round',
          borderCapStyle: 'round',
          pointRadius: 0,
          pointHoverRadius: 0,
          tension: 0,
          order: 0,
        },
        {
          label: legendLabels[0],
          data: p.points.map(([x, y]) => ({ x, y })),
          pointRadius: 3.2,
          pointHoverRadius: 3.2,
          pointBackgroundColor: PINK,
          pointBorderWidth: 0,
          pointBorderColor: 'rgba(0,0,0,0)',
          order: 1,
        },
      ],
    },
    options: {
      animation: false,
      responsive: false,
      devicePixelRatio: 1,
      events: [],
      layout: {
        padding: { left: 0, top: row.t, right: W - col.r, bottom: H - row.b - XH },
      },
      plugins: {
        legend: { display: false },
        tooltip: { enabled: false },
        title: { display: false },
      },
      scales: {
        x: {
          type: 'linear',
          min: p.xTicks[0],
          max: p.xTicks[p.xTicks.length - 1],
          afterBuildTicks: (s: any) => {
            s.ticks = p.xTicks.map((v) => ({ value: v }));
          },
          afterFit: (s: any) => {
            s.height = XH;
          },
          ticks: {
            autoSkip: false,
            maxRotation: 0,
            minRotation: 0,
            padding: 1,
            color: TEXT,
            font: { size: TICK_SIZE, family: FONT },
            callback: (v: number) => (isMajor(v, 2) ? String(v) : ''),
          },
          grid: {
            display: true,
            drawOnChartArea: false,
            drawTicks: true,
            tickLength: 4,
            tickWidth: 1,
            tickColor: tickColorFn(2),
          },
          border: { display: true, color: AXIS, width: 1.2 },
        },
        y: {
          type: 'linear',
          min: p.yTicks[0],
          max: p.yTicks[p.yTicks.length - 1],
          afterBuildTicks: (s: any) => {
            s.ticks = p.yTicks.map((v) => ({ value: v }));
          },
          afterFit: (s: any) => {
            s.width = col.l;
          },
          ticks: {
            autoSkip: false,
            padding: 3,
            color: TEXT,
            font: { size: TICK_SIZE, family: FONT },
            callback: (v: number) => (isMajor(v, p.yMajor) ? Number(v).toFixed(p.yDec) : ''),
          },
          grid: {
            display: true,
            drawOnChartArea: false,
            drawTicks: true,
            tickLength: 4,
            tickWidth: 1,
            tickColor: tickColorFn(p.yMajor),
          },
          border: { display: true, color: AXIS, width: 1.2 },
        },
      },
    },
    plugins: [decorPlugin(p)],
  };
}

function PanelCanvas({ def }: { def: PanelDef }) {
  const ref = useRef<HTMLCanvasElement | null>(null);
  useEffect(() => {
    if (!ref.current) return;
    const chart = new Chart(ref.current, makeConfig(def));
    return () => chart.destroy();
  }, [def]);
  return (
    <canvas
      ref={ref}
      width={W}
      height={H}
      style={{ position: 'absolute', left: 0, top: 0, width: W, height: H }}
    />
  );
}

export default function App() {
  Chart.defaults.font.family = FONT;
  Chart.defaults.color = TEXT;
  return (
    <div style={{ position: 'absolute', left: 0, top: 0, width: W, height: H, background: '#fff', overflow: 'hidden' }}>
      {PANELS.map((p) => (
        <PanelCanvas key={`${p.row}-${p.col}`} def={p} />
      ))}
    </div>
  );
}
